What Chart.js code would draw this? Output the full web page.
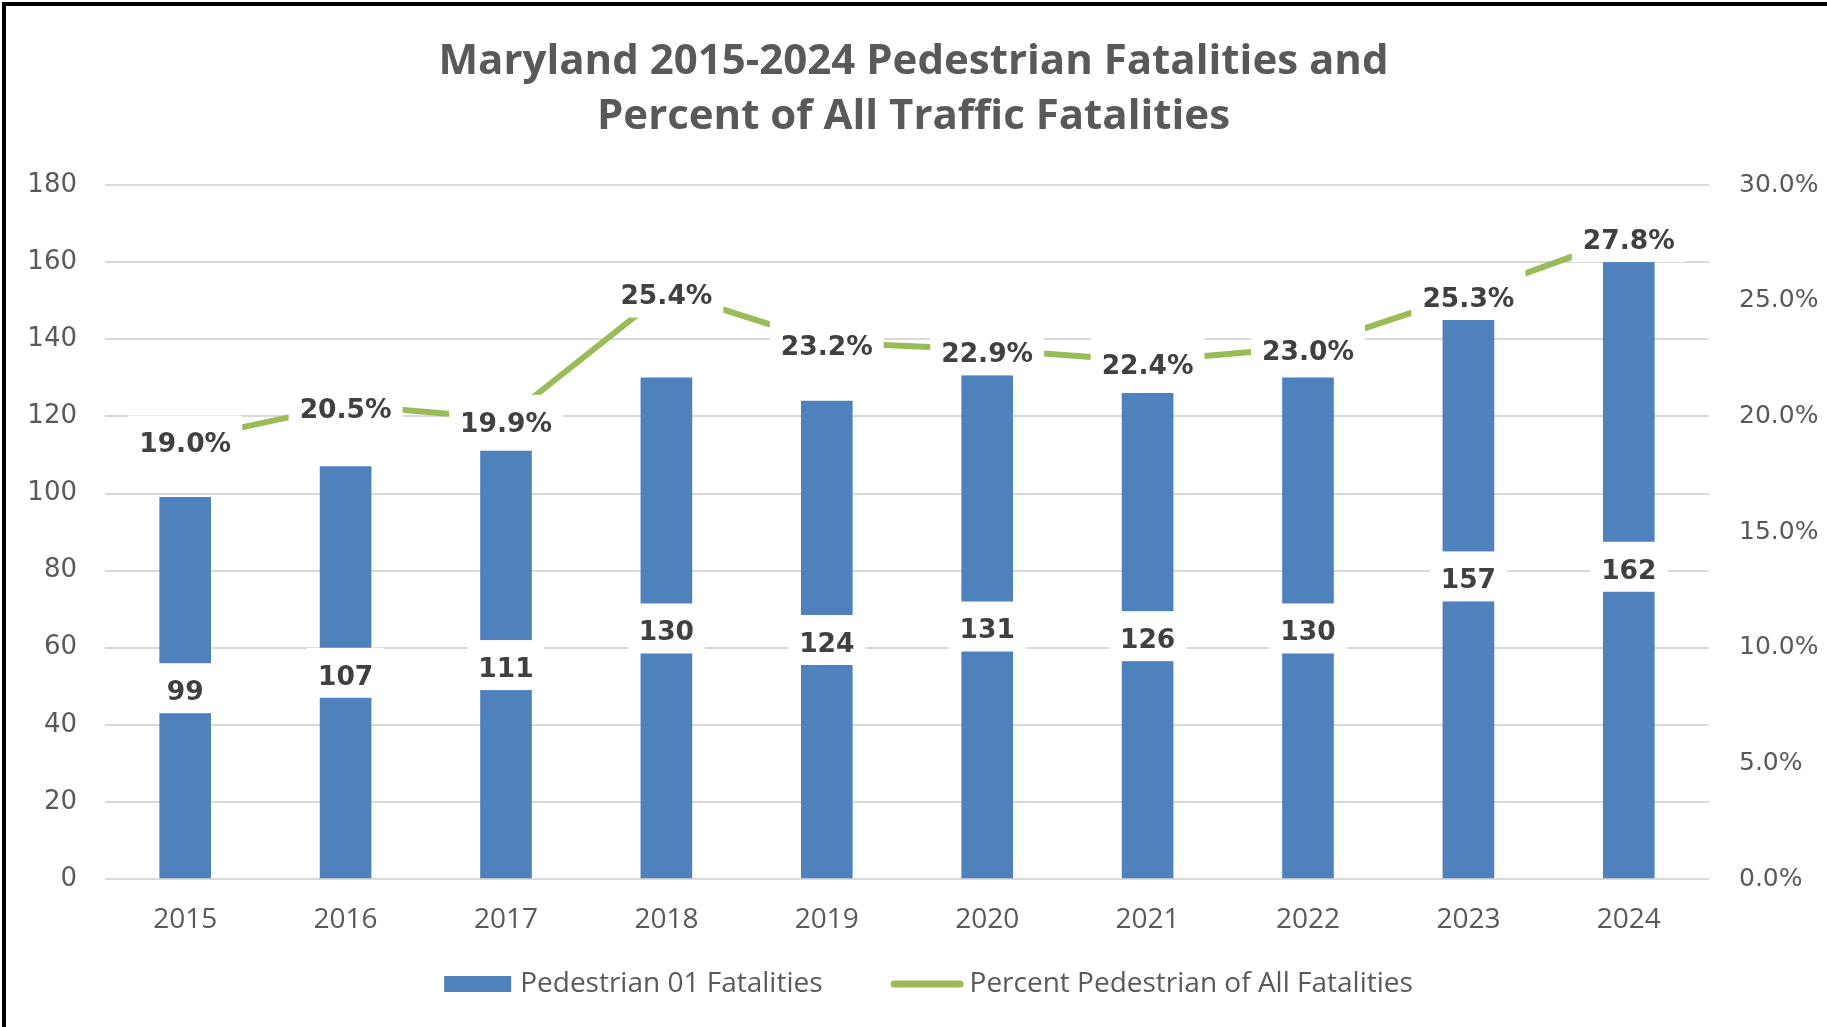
<!DOCTYPE html>
<html>
<head>
<meta charset="utf-8">
<title>Maryland 2015-2024 Pedestrian Fatalities</title>
<script src="https://cdn.jsdelivr.net/npm/chart.js@4.4.1/dist/chart.umd.min.js"></script>
<style>
  html, body { margin: 0; padding: 0; background: #fff; }
  #wrap { position: relative; width: 1827px; height: 1027px; overflow: hidden; }
  #frame { position: absolute; left: 2px; top: 2px; right: 0; bottom: 0;
           border-top: 4px solid #000; border-left: 4px solid #000; pointer-events: none; }
</style>
</head>
<body>
<div id="wrap">
  <canvas id="chart"></canvas>
  <div id="frame"></div>
</div>
<script>
// data
const years = ['2015', '2016', '2017', '2018', '2019', '2020', '2021', '2022', '2023', '2024'];
// bar heights as drawn
const pedFatalities = [99, 107, 111, 130, 124, 131, 126, 130, 145, 160];
// numbers printed on the bars
const pedLabels = [99, 107, 111, 130, 124, 131, 126, 130, 157, 162];
const pctPedestrian = [19.0, 20.5, 19.9, 25.4, 23.2, 22.9, 22.4, 23.0, 25.3, 27.8];

const BLUE = '#4F81BD';
const GREEN = '#9BBB59';
const GREY = '#595959';

// white-boxed data labels + legend drawn by hand
const labelBoxes = {
    id: 'labelBoxes',
    afterDatasetsDraw(chart) {
        const ctx = chart.ctx;
        const y = chart.scales.y;
        ctx.save();
        ctx.font = 'bold 26.5px "DejaVu Sans"';
        ctx.textAlign = 'center';
        ctx.textBaseline = 'middle';
        const drawLabel = (txt, x, cy) => {
            const w = ctx.measureText(txt).width + 22;
            ctx.fillStyle = '#fff';
            ctx.fillRect(x - w / 2, cy - 25, w, 50);
            ctx.fillStyle = '#404040';
            ctx.fillText(txt, x, cy + 5);
        };
        chart.getDatasetMeta(0).data.forEach((bar, i) => {
            const mid = (y.getPixelForValue(0) + y.getPixelForValue(pedLabels[i])) / 2;
            drawLabel(String(pedLabels[i]), bar.x, mid);
        });
        chart.getDatasetMeta(1).data.forEach((pt, i) => {
            drawLabel(pctPedestrian[i].toFixed(1) + '%', pt.x, pt.y + 1);
        });
        ctx.restore();
    },
    afterDraw(chart) {
        const ctx = chart.ctx;
        const t1 = chart.data.datasets[0].label;
        const t2 = chart.data.datasets[1].label;
        ctx.save();
        ctx.font = '28px "Open Sans"';
        const w1 = ctx.measureText(t1).width;
        const w2 = ctx.measureText(t2).width;
        const total = 67 + 9 + w1 + 68 + 73 + 6 + w2;
        let x = chart.width / 2 + 15 - total / 2;
        const cy = 984;
        ctx.fillStyle = BLUE;
        ctx.fillRect(x, cy - 8, 67, 16);
        x += 67 + 9;
        ctx.fillStyle = GREY;
        ctx.textAlign = 'left';
        ctx.textBaseline = 'middle';
        ctx.fillText(t1, x, cy);
        x += w1 + 68;
        ctx.strokeStyle = GREEN;
        ctx.lineWidth = 7;
        ctx.lineCap = 'round';
        ctx.beginPath();
        ctx.moveTo(x + 3.5, cy);
        ctx.lineTo(x + 73 - 3.5, cy);
        ctx.stroke();
        x += 73 + 6;
        ctx.fillText(t2, x, cy);
        ctx.restore();
    }
};

const ctx = document.getElementById('chart').getContext('2d');
new Chart(ctx, {
    type: 'bar',
    data: {
        labels: years,
        datasets: [{
            type: 'bar',
            label: 'Pedestrian 01 Fatalities',
            data: pedFatalities,
            backgroundColor: BLUE,
            barThickness: 51,
            yAxisID: 'y',
            order: 2
        }, {
            type: 'line',
            label: 'Percent Pedestrian of All Fatalities',
            data: pctPedestrian,
            borderColor: GREEN,
            borderWidth: 6,
            borderCapStyle: 'butt',
            pointRadius: 0,
            tension: 0,
            fill: false,
            yAxisID: 'y1',
            order: 1
        }]
    },
    options: {
        responsive: true,
        maintainAspectRatio: false,
        animation: false,
        layout: { padding: 0 },
        plugins: {
            legend: { display: false },
            tooltip: { enabled: false },
            title: {
                display: true,
                text: ['Maryland 2015-2024 Pedestrian Fatalities and', 'Percent of All Traffic Fatalities'],
                color: GREY,
                font: { family: '"Open Sans"', size: 42, weight: 'bold', lineHeight: 1.3 },
                padding: { top: 35, bottom: 41 }
            }
        },
        scales: {
            x: {
                grid: { display: false },
                border: { display: false },
                ticks: { color: GREY, font: { family: '"Open Sans"', size: 28 }, padding: 16 },
                afterFit: s => { s.height = 148; }
            },
            y: {
                position: 'left',
                min: 0,
                max: 180,
                ticks: { stepSize: 20, color: GREY, font: { family: '"DejaVu Sans"', size: 26 }, padding: 28 },
                grid: { color: '#D9D9D9', lineWidth: 2, drawTicks: false },
                border: { display: false },
                afterFit: s => { s.width = 105; }
            },
            y1: {
                position: 'right',
                min: 0,
                max: 30,
                ticks: {
                    stepSize: 5, color: GREY, font: { family: '"DejaVu Sans"', size: 25 }, padding: 30,
                    callback: v => v.toFixed(1) + '%'
                },
                grid: { drawOnChartArea: false, drawTicks: false },
                border: { display: false },
                afterFit: s => { s.width = 118; }
            }
        }
    },
    plugins: [labelBoxes]
});
</script>
</body>
</html>
